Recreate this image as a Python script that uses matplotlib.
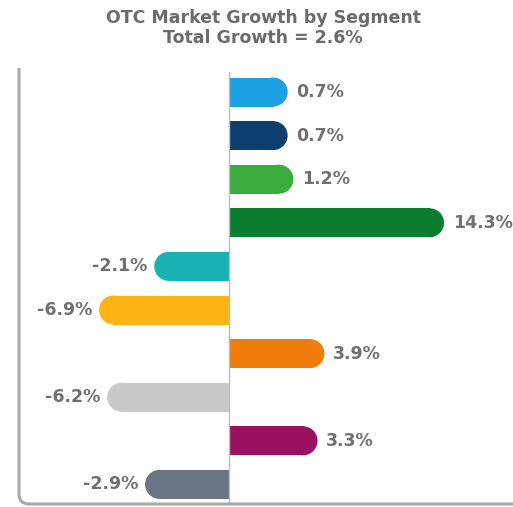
import matplotlib.pyplot as plt
from matplotlib.patches import Ellipse
from matplotlib.path import Path
from matplotlib.patches import PathPatch

values = [0.7, 0.7, 1.2, 14.3, -2.1, -6.9, 3.9, -6.2, 3.3, -2.9]
labels = ["0.7%", "0.7%", "1.2%", "14.3%", "-2.1%", "-6.9%", "3.9%", "-6.2%", "3.3%", "-2.9%"]
colors = ["#1ba1e2", "#0d3f6e", "#3aab3c", "#0a7d31", "#17b2b1",
          "#fbb413", "#ef7c0b", "#c9c9c9", "#99115f", "#6b7484"]
title = "OTC Market Growth by Segment\nTotal Growth = 2.6%"

W, H = 513, 507
fig = plt.figure(figsize=(W / 100, H / 100), dpi=100)
ax = fig.add_axes([0, 0, 1, 1])

# pixel geometry
px_per_unit = 11.5
zero_px = 229
row_px = 43.6
first_row_px = 92
bar_px = 29
base = 4.4  # visual minimum length of a pill

ax.set_xlim(-zero_px / px_per_unit, (W - zero_px) / px_per_unit)
ax.set_ylim((H - first_row_px) / row_px, -first_row_px / row_px)
ax.axis("off")

r_x = (bar_px / 2) / px_per_unit
h = bar_px / row_px
txt = "#707070"

for i, (v, lab, c) in enumerate(zip(values, labels, colors)):
    s = 1 if v >= 0 else -1
    L = base + abs(v)
    ax.barh(i, s * (L - r_x + 0.05), height=h, color=c, lw=0)
    ax.add_patch(Ellipse((s * (L - r_x), i), 2 * r_x, h, color=c, lw=0))
    gap = 0.75 if s > 0 else 0.6
    ax.text(s * (L + gap), i, lab, ha="left" if s > 0 else "right", va="center",
            fontsize=12.5, fontweight="bold", color=txt, family="DejaVu Sans")

# zero line
ax.plot([0, 0], [(72 - first_row_px) / row_px, (504 - first_row_px) / row_px],
        color="#bdbdbd", lw=1)

# frame: left + bottom with rounded corner (figure pixels)
x0, y_top, y_bot, rad = 19, 68, 504, 10
to_fig = lambda x, y: (x / W, 1 - y / H)
verts = [to_fig(x0, y_top), to_fig(x0, y_bot - rad), to_fig(x0, y_bot), to_fig(x0 + rad, y_bot), to_fig(W, y_bot)]
codes = [Path.MOVETO, Path.LINETO, Path.CURVE3, Path.CURVE3, Path.LINETO]
fig.patches.append(PathPatch(Path(verts, codes), transform=fig.transFigure,
                             fill=False, edgecolor="#a9a9a9", lw=2.2))

fig.text(263 / W, 1 - 28 / H, title, ha="center", va="center", fontsize=12.5,
         fontweight="bold", color="#6b6b6b", family="DejaVu Sans", linespacing=1.1)

fig.savefig("out.png", dpi=100)
